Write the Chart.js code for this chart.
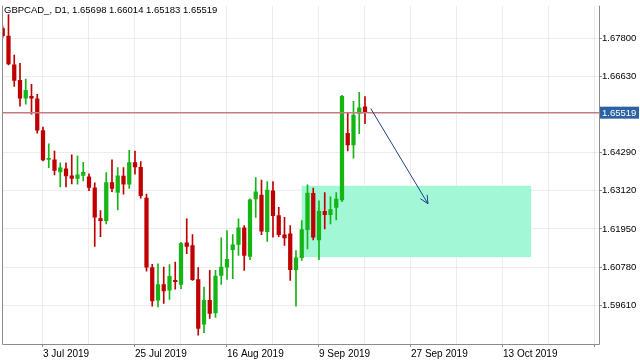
<!DOCTYPE html>
<html>
<head>
<meta charset="utf-8">
<script src="https://cdn.jsdelivr.net/npm/chart.js@4"></script>
<style>
  html, body { margin: 0; padding: 0; background: #fff; }
</style>
</head>
<body>
<canvas id="chart" width="640" height="360"></canvas>
<script>
// daily bars, GBPCAD
const opens = [1.68100, 1.67871, 1.66985, 1.66512, 1.65962, 1.66023, 1.65946, 1.64969, 1.64083, 1.64068,
    1.63702, 1.63793, 1.63579, 1.63503, 1.63595, 1.63549, 1.63213, 1.62266, 1.62205, 1.63375,
    1.63069, 1.63570, 1.63326, 1.63986, 1.63839, 1.62898, 1.60760, 1.59761, 1.60241, 1.60067,
    1.60372, 1.60250, 1.61524, 1.61441, 1.60394, 1.59028, 1.59761, 1.59373, 1.60525, 1.60778,
    1.61310, 1.61472, 1.61982, 1.61105, 1.62868, 1.62990, 1.61869, 1.63121, 1.62358, 1.61768,
    1.61799, 1.60699, 1.61066, 1.61930, 1.63039, 1.61615, 1.62489, 1.62388, 1.62611, 1.62837,
    1.64884, 1.64526, 1.65494, 1.65698];
const highs = [1.68161, 1.68527, 1.67290, 1.67031, 1.66551, 1.66389, 1.66084, 1.65076, 1.64566, 1.64343,
    1.63976, 1.63976, 1.64221, 1.64190, 1.63992, 1.63640, 1.63366, 1.62510, 1.63680, 1.64068,
    1.63833, 1.63833, 1.64364, 1.64343, 1.64016, 1.63020, 1.60861, 1.60882, 1.60778, 1.60852,
    1.60931, 1.61542, 1.62257, 1.61777, 1.60760, 1.60168, 1.60678, 1.60678, 1.61676, 1.61899,
    1.61777, 1.62257, 1.62052, 1.62877, 1.63527, 1.63448, 1.63405, 1.63405, 1.62611, 1.62306,
    1.62052, 1.61289, 1.62205, 1.63304, 1.63204, 1.62816, 1.63069, 1.62938, 1.63069, 1.66053,
    1.65513, 1.65870, 1.66145, 1.66014];
const lows = [1.67825, 1.66985, 1.66328, 1.65717, 1.65779, 1.65473, 1.64893, 1.64037, 1.63833, 1.63610,
    1.63243, 1.63243, 1.63335, 1.63326, 1.63427, 1.63121, 1.61411, 1.61716, 1.62104, 1.63091,
    1.62532, 1.63020, 1.63191, 1.63631, 1.62898, 1.60656, 1.59578, 1.59557, 1.59661, 1.59783,
    1.60097, 1.60119, 1.61188, 1.60372, 1.58692, 1.58763, 1.59202, 1.59233, 1.60250, 1.60403,
    1.60424, 1.61136, 1.60678, 1.61004, 1.62306, 1.61777, 1.61563, 1.61695, 1.61716, 1.61441,
    1.60372, 1.59578, 1.60983, 1.61340, 1.61615, 1.61004, 1.61951, 1.62104, 1.62226, 1.62785,
    1.64343, 1.64120, 1.64871, 1.65183];
const closes = [1.67886, 1.67016, 1.66512, 1.65962, 1.66206, 1.65962, 1.64984, 1.64068, 1.64099, 1.63747,
    1.63824, 1.63579, 1.63503, 1.63610, 1.63686, 1.63228, 1.62312, 1.62205, 1.63375, 1.63191,
    1.63579, 1.63326, 1.63986, 1.63854, 1.62968, 1.60778, 1.59740, 1.60241, 1.60045, 1.60494,
    1.60333, 1.61502, 1.61411, 1.60394, 1.58897, 1.59761, 1.59355, 1.60504, 1.60778, 1.61014,
    1.61463, 1.61982, 1.61136, 1.62846, 1.63091, 1.61878, 1.63143, 1.62358, 1.61777, 1.61676,
    1.60699, 1.61066, 1.61930, 1.63051, 1.61695, 1.62489, 1.62388, 1.62541, 1.62868, 1.66023,
    1.64526, 1.65443, 1.65666, 1.65519];

// time axis: label every 16 bars, grid every 8
const dateBars = [7, 23, 39, 55, 71, 87, 103];
const dateLabels = ['3 Jul 2019', '25 Jul 2019', '16 Aug 2019', '9 Sep 2019', '27 Sep 2019', '13 Oct 2019', ''];
const gridBars = [7, 15, 23, 31, 39, 47, 55, 63, 71, 79, 87, 95, 103];
const priceTicks = [1.59610, 1.60780, 1.61950, 1.63120, 1.64290, 1.66630, 1.67800];

// drawn objects
const zoneBars = [52.0, 91.9];
const zonePrices = [1.63274, 1.61084];
const arrowBars = [64.0, 73.95];
const arrowPrices = [1.65647, 1.62724];

const UP = '#15b515';
const DOWN = '#c00000';
const FONT = '"Liberation Sans", Arial, sans-serif';

const idx = opens.map((v, i) => i);
const isUp = i => closes[i] >= opens[i];

const drawings = {
    id: 'drawings',
    beforeDatasetsDraw(chart) {
        const {ctx, scales: {x, y}} = chart;
        ctx.save();
        const x0 = x.getPixelForValue(zoneBars[0]), x1 = x.getPixelForValue(zoneBars[1]);
        const y0 = y.getPixelForValue(zonePrices[0]), y1 = y.getPixelForValue(zonePrices[1]);
        ctx.fillStyle = '#a2f7d6';
        ctx.fillRect(x0, y0, x1 - x0, y1 - y0);
        ctx.restore();
    },
    afterDatasetsDraw(chart) {
        const {ctx, chartArea, scales: {x, y}} = chart;
        ctx.save();
        // bid line
        const py = y.getPixelForValue(closes[closes.length - 1]);
        ctx.strokeStyle = '#c47a82';
        ctx.lineWidth = 1.5;
        ctx.beginPath();
        ctx.moveTo(chartArea.left, py);
        ctx.lineTo(chartArea.right, py);
        ctx.stroke();

        // arrow
        const ax0 = x.getPixelForValue(arrowBars[0]), ay0 = y.getPixelForValue(arrowPrices[0]);
        const ax1 = x.getPixelForValue(arrowBars[1]), ay1 = y.getPixelForValue(arrowPrices[1]);
        ctx.strokeStyle = '#24408f';
        ctx.lineWidth = 1;
        ctx.beginPath();
        ctx.moveTo(ax0, ay0);
        ctx.lineTo(ax1, ay1);
        const ang = Math.atan2(ay1 - ay0, ax1 - ax0);
        const len = 9;
        ctx.moveTo(ax1, ay1);
        ctx.lineTo(ax1 - len * Math.cos(ang - 0.45), ay1 - len * Math.sin(ang - 0.45));
        ctx.moveTo(ax1, ay1);
        ctx.lineTo(ax1 - len * Math.cos(ang + 0.45), ay1 - len * Math.sin(ang + 0.45));
        ctx.stroke();
        ctx.restore();
    },
    afterDraw(chart) {
        const {ctx, chartArea, scales: {y}} = chart;
        ctx.save();
        // frame
        ctx.strokeStyle = '#8c8c8c';
        ctx.lineWidth = 1;
        ctx.beginPath();
        ctx.moveTo(chartArea.left + 0.5, chartArea.top);
        ctx.lineTo(chartArea.left + 0.5, chartArea.bottom + 0.5);
        ctx.lineTo(chartArea.right + 0.5, chartArea.bottom + 0.5);
        ctx.lineTo(chartArea.right + 0.5, chartArea.top);
        ctx.stroke();

        // symbol line
        ctx.fillStyle = '#000';
        ctx.font = '9.5px ' + FONT;
        ctx.textBaseline = 'middle';
        ctx.textAlign = 'left';
        const last = closes.length - 1;
        ctx.fillText('GBPCAD_, D1, ' + [opens[last], highs[last], lows[last], closes[last]].map(v => v.toFixed(5)).join(' '), 4, 10);

        // price label
        const py = y.getPixelForValue(closes[last]);
        ctx.fillStyle = '#2a62a3';
        ctx.fillRect(chartArea.right + 1, py - 6, 640 - chartArea.right - 2, 12);
        ctx.fillStyle = '#fff';
        ctx.fillText(closes[last].toFixed(5), chartArea.right + 3, py + 0.5);
        ctx.restore();
    }
};

new Chart(document.getElementById('chart').getContext('2d'), {
    type: 'bar',
    data: {
        datasets: [
            {
                label: 'body',
                data: idx.map(i => ({x: i, y: [opens[i], closes[i]]})),
                backgroundColor: ctx => isUp(ctx.dataIndex) ? UP : DOWN,
                barThickness: 3.6,
                minBarLength: 1,
                grouped: false,
                order: 1
            },
            {
                label: 'wick',
                data: idx.map(i => ({x: i, y: [lows[i], highs[i]]})),
                backgroundColor: ctx => isUp(ctx.dataIndex) ? UP : DOWN,
                barThickness: 1,
                grouped: false,
                order: 2
            }
        ]
    },
    options: {
        responsive: false,
        animation: false,
        events: [],
        layout: {padding: {left: 2, top: 4, right: 0, bottom: 0}},
        scales: {
            x: {
                type: 'linear',
                offset: false,
                min: -0.13,
                max: 103.7,
                afterBuildTicks: scale => {
                    scale.ticks = gridBars.map(v => ({value: v}));
                },
                afterFit: scale => { scale.height = 16; },
                grid: {
                    offset: false,
                    color: 'rgba(0,0,0,0.07)',
                    tickColor: ctx => (ctx.tick && dateBars.includes(ctx.tick.value)) ? '#8c8c8c' : 'rgba(0,0,0,0)',
                    tickLength: 3
                },
                border: {display: false},
                ticks: {
                    autoSkip: false,
                    maxRotation: 0,
                    align: 'start',
                    padding: 1,
                    color: '#000',
                    font: {family: FONT, size: 10},
                    callback: v => {
                        const k = dateBars.indexOf(v);
                        return k >= 0 ? dateLabels[k] : '';
                    }
                }
            },
            y: {
                position: 'right',
                min: 1.584176,
                max: 1.688025,
                afterBuildTicks: scale => {
                    scale.ticks = priceTicks.map(v => ({value: v}));
                },
                afterFit: scale => { scale.width = 41; },
                grid: {
                    color: 'rgba(0,0,0,0.07)',
                    tickColor: '#8c8c8c',
                    tickLength: 3
                },
                border: {display: false},
                ticks: {
                    padding: 0,
                    color: '#000',
                    font: {family: FONT, size: 9.5},
                    callback: v => v.toFixed(5)
                }
            }
        },
        plugins: {
            legend: {display: false},
            tooltip: {enabled: false}
        }
    },
    plugins: [drawings]
});
</script>
</body>
</html>
